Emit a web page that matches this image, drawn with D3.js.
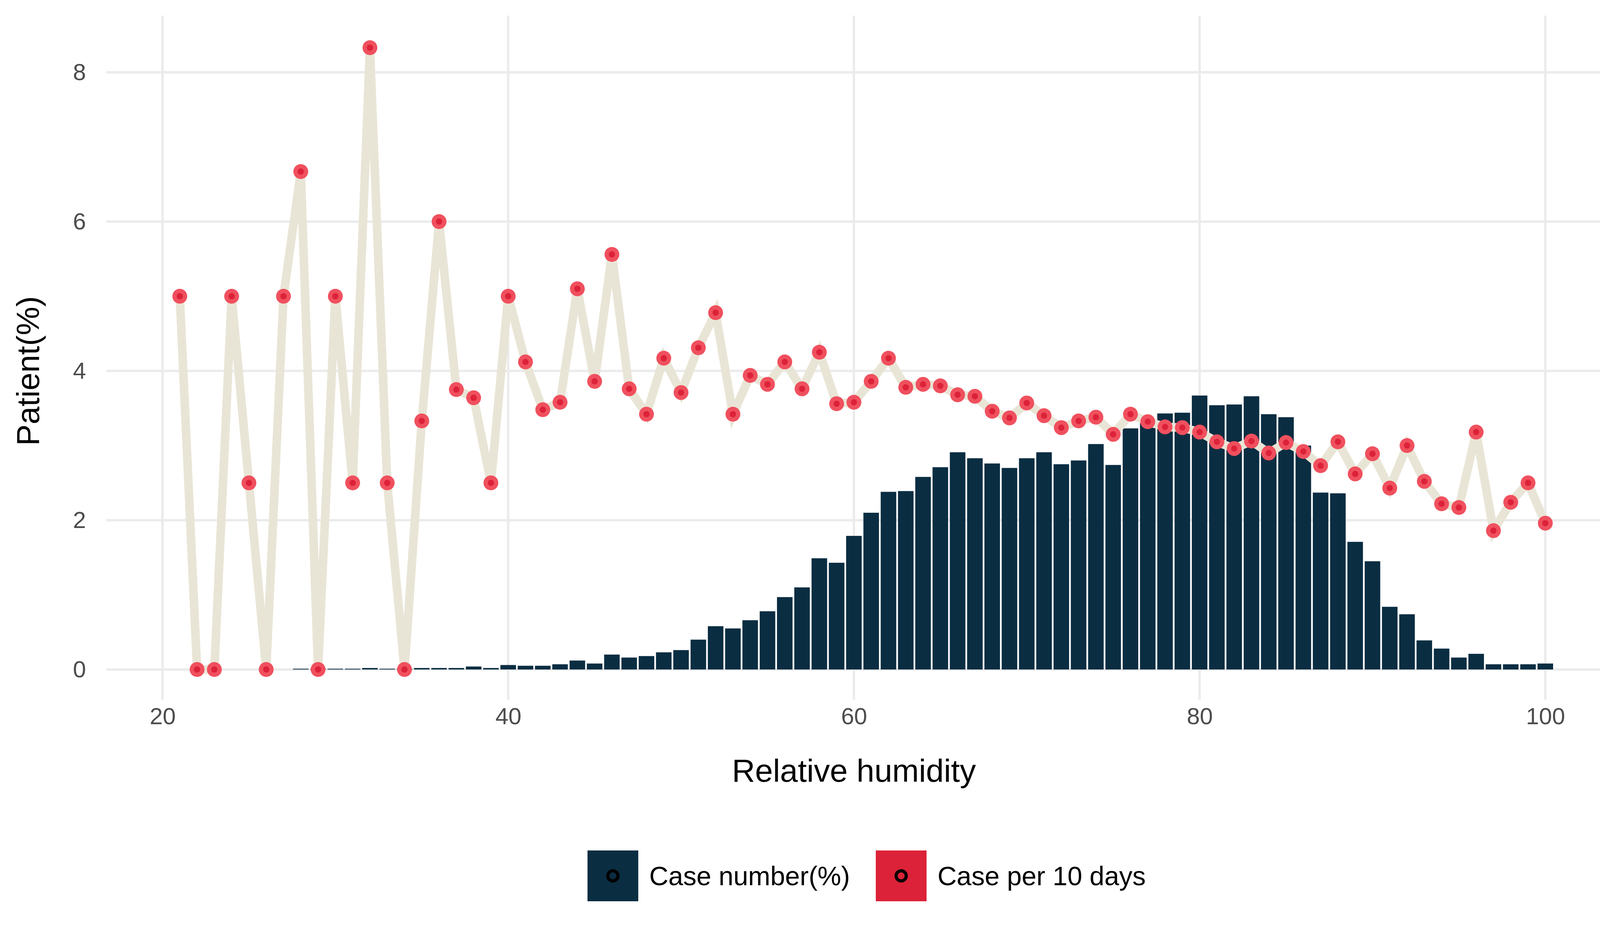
<html>
<head>
<script src="https://cdn.jsdelivr.net/npm/d3@7"></script>
<style>
  body { margin: 0; background: #fff; }
  text { font-family: Arial, "Liberation Sans", sans-serif; }
</style>
</head>
<body>
<svg width="4200" height="2400"></svg>
<script>
// relative humidity 21..100
const humidity = d3.range(21, 101);
const caseNumber = [0,0,0,0,0,0,0,0.01,0.01,0.01,0.01,0.02,0.01,0.01,0.02,0.02,0.02,0.04,0.02,0.06,
  0.05,0.05,0.07,0.12,0.08,0.2,0.16,0.18,0.23,0.26,0.4,0.58,0.55,0.66,0.78,0.97,1.1,1.49,1.43,1.79,
  2.1,2.38,2.39,2.58,2.71,2.91,2.83,2.76,2.7,2.83,2.91,2.75,2.8,3.02,2.74,3.23,3.3,3.43,3.44,3.67,
  3.54,3.55,3.66,3.42,3.38,3.0,2.37,2.36,1.71,1.45,0.84,0.74,0.39,0.28,0.16,0.21,0.07,0.07,0.07,0.08];
const casePer10 = [5,0,0,5,2.5,0,5,6.67,0,5,2.5,8.33,2.5,0,3.33,6,3.75,3.64,2.5,5,
  4.12,3.48,3.58,5.1,3.86,5.56,3.76,3.42,4.17,3.71,4.31,4.78,3.42,3.94,3.82,4.12,3.76,4.25,3.56,3.58,
  3.86,4.17,3.78,3.82,3.8,3.68,3.66,3.46,3.37,3.57,3.4,3.24,3.33,3.38,3.15,3.42,3.32,3.25,3.24,3.18,
  3.05,2.96,3.06,2.9,3.04,2.92,2.73,3.05,2.62,2.89,2.43,3.0,2.52,2.22,2.17,3.18,1.86,2.24,2.5,1.96];
const xTicks = [20, 40, 60, 80, 100];
const yTicks = [0, 2, 4, 6, 8];
const legendLabels = ["Case number(%)", "Case per 10 days"];

const barColor = "#0a2d42", lineColor = "#e9e5d6", ptOuter = "#f0505e", ptInner = "#dc2238";

var svg = d3.select("svg");
var panel = {left: 272, right: 4172, top: 40, bottom: 1790};

var x = d3.scaleLinear().domain([20, 100]).range([416, 3956]);
var y = d3.scaleLinear().domain([0, 8]).range([1713, 185]);

// grid
var grid = svg.append("g");
grid.selectAll(".gy").data(yTicks).enter().append("line")
  .attr("x1", panel.left).attr("x2", panel.right)
  .attr("y1", d => y(d)).attr("y2", d => y(d))
  .attr("stroke", "#ebebeb").attr("stroke-width", 6);
grid.selectAll(".gx").data(xTicks).enter().append("line")
  .attr("y1", panel.top).attr("y2", panel.bottom)
  .attr("x1", d => x(d)).attr("x2", d => x(d))
  .attr("stroke", "#ebebeb").attr("stroke-width", 6);

// bars
var bw = x(0.9) - x(0);
svg.append("g").selectAll("rect").data(humidity).enter().append("rect")
  .attr("x", (d) => x(d) - bw / 2)
  .attr("width", bw)
  .attr("y", (d, i) => y(caseNumber[i]))
  .attr("height", (d, i) => y(0) - y(caseNumber[i]))
  .attr("fill", barColor);

// line + points
var line = d3.line().x(d => x(d)).y((d, i) => y(casePer10[i]));
svg.append("path").datum(humidity).attr("d", line)
  .attr("fill", "none").attr("stroke", lineColor)
  .attr("stroke-width", 22).attr("stroke-linejoin", "miter");
var pts = svg.append("g").selectAll("g").data(humidity).enter().append("g")
  .attr("transform", (d, i) => "translate(" + x(d) + "," + y(casePer10[i]) + ")");
pts.append("circle").attr("r", 19).attr("fill", ptOuter);
pts.append("circle").attr("r", 8).attr("fill", ptInner);

// axes (text only)
var xAxis = svg.append("g").attr("transform", "translate(0,1808)")
  .call(d3.axisBottom(x).tickValues(xTicks).tickSize(0).tickPadding(0));
var yAxis = svg.append("g").attr("transform", "translate(220,0)")
  .call(d3.axisLeft(y).tickValues(yTicks).tickSize(0).tickPadding(0));
[xAxis, yAxis].forEach(a => {
  a.select(".domain").remove();
  a.selectAll("text").attr("font-size", 60).attr("fill", "#4d4d4d")
    .attr("font-family", "Arial, 'Liberation Sans', sans-serif");
});
xAxis.selectAll("text").attr("dy", "0.75em");

svg.append("text").attr("x", x(60)).attr("y", 2000).attr("text-anchor", "middle")
  .attr("font-size", 82).text("Relative humidity");
svg.append("text").attr("transform", "translate(100," + y(4) + ") rotate(-90)")
  .attr("text-anchor", "middle").attr("font-size", 82).text("Patient(%)");

// legend
var legend = svg.append("g");
var keyX = [1504, 2242], colors = [barColor, "#dc2238"];
legendLabels.forEach((lab, i) => {
  var g = legend.append("g").attr("transform", "translate(" + keyX[i] + ",2176)");
  g.append("rect").attr("width", 130).attr("height", 130).attr("fill", colors[i]);
  g.append("circle").attr("cx", 65).attr("cy", 65).attr("r", 13)
    .attr("fill", "none").attr("stroke", "#000").attr("stroke-width", 8);
  g.append("text").attr("x", 158).attr("y", 65).attr("dy", "0.35em")
    .attr("font-size", 68).text(lab);
});
</script>
</body>
</html>
